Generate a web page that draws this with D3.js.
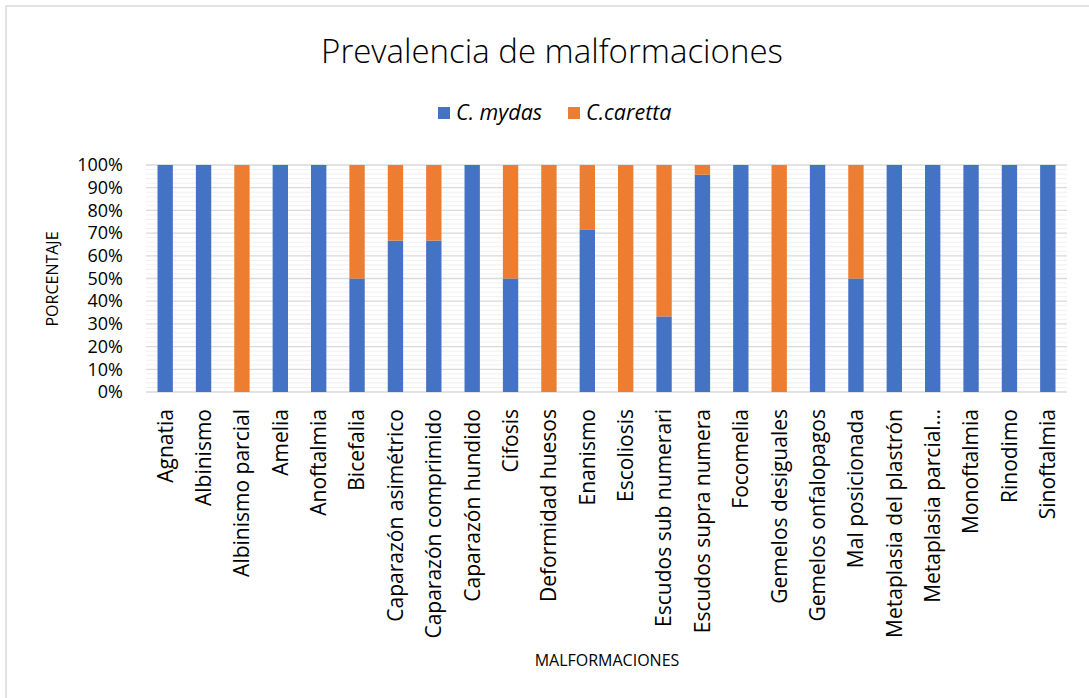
<!DOCTYPE html>
<html>
<head>
<meta charset="utf-8">
<script src="https://cdn.jsdelivr.net/npm/d3@7"></script>
<style>
  body { margin: 0; background: #fff; }
  text { font-family: "Open Sans", "Noto Sans", sans-serif; fill: #000; }
</style>
</head>
<body>
<div id="chart"></div>
<script>
// data
var categories = ["Agnatia", "Albinismo", "Albinismo parcial", "Amelia", "Anoftalmia", "Bicefalia",
  "Caparazón asimétrico", "Caparazón comprimido", "Caparazón hundido", "Cifosis", "Deformidad huesos",
  "Enanismo", "Escoliosis", "Escudos sub numerari", "Escudos supra numera", "Focomelia",
  "Gemelos desiguales", "Gemelos onfalopagos", "Mal posicionada", "Metaplasia del plastrón",
  "Metaplasia parcial…", "Monoftalmia", "Rinodimo", "Sinoftalmia"];
var mydas   = [100, 100, 0, 100, 100, 50, 66.7, 66.7, 100, 50, 0, 71.4, 0, 33.3, 95.7, 100, 0, 100, 50, 100, 100, 100, 100, 100];
var caretta = [0, 0, 100, 0, 0, 50, 33.3, 33.3, 0, 50, 100, 28.6, 100, 66.7, 4.3, 0, 100, 0, 50, 0, 0, 0, 0, 0];
var seriesNames = ["C. mydas", "C.caretta"];
var colors = ["#4472C4", "#ED7D31"];
var yTicks = [0, 10, 20, 30, 40, 50, 60, 70, 80, 90, 100];

var W = 1089, H = 698;
var margin = {left: 146, right: 22, top: 165, bottom: 306};

var svg = d3.select("#chart").append("svg")
    .attr("width", W).attr("height", H);

// frame
svg.append("rect")
    .attr("x", 6).attr("y", 6).attr("width", W + 20).attr("height", H + 20)
    .attr("fill", "none").attr("stroke", "#d9d9d9").attr("stroke-width", 1.5);

var x = d3.scaleBand().domain(categories)
    .range([margin.left, W - margin.right]).paddingInner(0.6).paddingOuter(0.3);
var y = d3.scaleLinear().domain([0, 100]).range([H - margin.bottom, margin.top]);

// minor gridlines
svg.append("g").selectAll("line")
    .data(d3.range(0, 100, 2).filter(function(v) { return v % 10 !== 0; }))
    .enter().append("line")
    .attr("x1", margin.left).attr("x2", W - margin.right)
    .attr("y1", d => y(d)).attr("y2", d => y(d))
    .attr("stroke", "#f0f0f0").attr("stroke-width", 1);

// major gridlines
svg.append("g").selectAll("line")
    .data(yTicks).enter().append("line")
    .attr("x1", margin.left).attr("x2", W - margin.right)
    .attr("y1", d => y(d)).attr("y2", d => y(d))
    .attr("stroke", "#d9d9d9").attr("stroke-width", 1.3);

// stacked bars
var rows = categories.map(function(c, i) { return {cat: c, mydas: mydas[i], caretta: caretta[i]}; });
var stack = d3.stack().keys(["mydas", "caretta"])(rows);

svg.append("g").selectAll("g")
    .data(stack).enter().append("g")
    .attr("fill", (d, i) => colors[i])
    .selectAll("rect")
    .data(d => d).enter().append("rect")
    .attr("x", d => x(d.data.cat))
    .attr("width", x.bandwidth())
    .attr("y", d => y(d[1]))
    .attr("height", d => y(d[0]) - y(d[1]));

// y axis labels
var yAxis = d3.axisLeft(y).tickValues(yTicks).tickFormat(d => d + "%").tickSize(0).tickPadding(23);
var ya = svg.append("g").attr("transform", "translate(" + margin.left + ",0)").call(yAxis);
ya.select(".domain").remove();
ya.selectAll("text").style("font-size", "18px").attr("fill", "#000")
    .style("font-family", "'Open Sans', sans-serif");

// x axis labels
var xAxis = d3.axisBottom(x).tickSize(0).tickPadding(0);
var xa = svg.append("g").attr("transform", "translate(0," + (H - margin.bottom) + ")").call(xAxis);
xa.select(".domain").remove();
xa.selectAll("text")
    .style("font-size", "21px").attr("fill", "#000")
    .style("font-family", "'Open Sans', sans-serif")
    .attr("text-anchor", "end")
    .attr("dy", "0.35em")
    .attr("transform", "translate(0,17) rotate(-90)")
    .attr("x", 0).attr("y", 0);

// axis titles
svg.append("text").attr("x", 607).attr("y", 666)
    .attr("text-anchor", "middle").style("font-size", "16px").text("MALFORMACIONES");
svg.append("text").attr("transform", "translate(58,279) rotate(-90)")
    .attr("text-anchor", "middle").style("font-size", "16px").text("PORCENTAJE");

// title
svg.append("text").attr("x", 552).attr("y", 63)
    .attr("text-anchor", "middle").style("font-size", "33px").style("font-weight", "300")
    .attr("fill", "#262626").text("Prevalencia de malformaciones");

// legend
var legX = [438, 568];
var leg = svg.append("g").selectAll("g").data(seriesNames).enter().append("g")
    .attr("transform", (d, i) => "translate(" + legX[i] + ",107)");
leg.append("rect").attr("width", 12).attr("height", 12).attr("fill", (d, i) => colors[i]);
leg.append("text").attr("x", 18).attr("y", 13)
    .style("font-size", "21.5px").style("font-style", "italic").text(d => d);
</script>
</body>
</html>
